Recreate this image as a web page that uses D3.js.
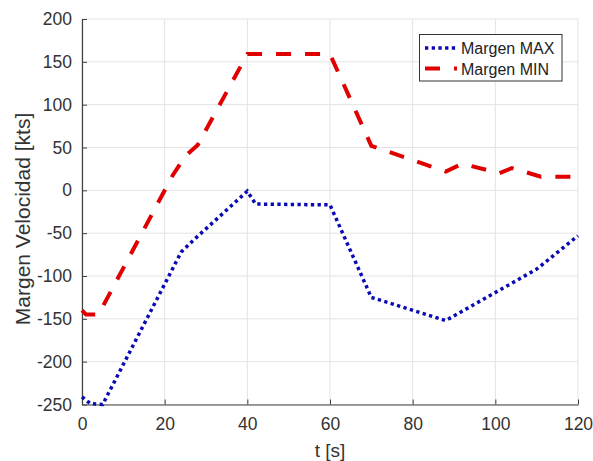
<!DOCTYPE html>
<html>
<head>
<meta charset="utf-8">
<script src="https://cdn.jsdelivr.net/npm/d3@7"></script>
<style>
  body { margin: 0; background: #fff; }
  svg { font-family: "Liberation Sans", Arial, sans-serif; }
</style>
</head>
<body>
<div id="chart"></div>
<script>
// Datos
const tMax = [0, 2, 5, 24, 27, 40, 42, 60, 70, 88, 110, 120];
const vMax = [-241, -249, -250, -72, -58, -1, -16, -17, -125, -152, -92, -53];

const tMin = [0, 1, 4, 22, 25, 28, 40, 60, 70, 88, 92, 101, 104, 111, 120];
const vMin = [-140, -145, -145, 18, 40, 53, 159, 159, 52, 22, 31, 20, 26, 16, 16];

const xTicks = [0, 20, 40, 60, 80, 100, 120];
const yTicks = [-250, -200, -150, -100, -50, 0, 50, 100, 150, 200];

const seriesNames = ["Margen MAX", "Margen MIN"];

// ------------------------------------------------------------------
const width = 593, height = 461;
const margin = { left: 82, right: 15, top: 19, bottom: 56.5 };

const svg = d3.select("#chart").append("svg")
  .attr("width", width).attr("height", height);

const x = d3.scaleLinear().domain([0, 120]).range([margin.left, width - margin.right]);
const y = d3.scaleLinear().domain([-250, 200]).range([height - margin.bottom, margin.top]);

const axisColor = "#404040";

// Rejilla
svg.append("g").selectAll("line").data(xTicks).enter().append("line")
  .attr("x1", d => x(d)).attr("x2", d => x(d))
  .attr("y1", y(-250)).attr("y2", y(200))
  .attr("stroke", "#e3e3e3").attr("stroke-width", 1);
svg.append("g").selectAll("line").data(yTicks).enter().append("line")
  .attr("x1", x(0)).attr("x2", x(120))
  .attr("y1", d => y(d)).attr("y2", d => y(d))
  .attr("stroke", "#e3e3e3").attr("stroke-width", 1);

// Ejes (ticks hacia dentro, signo menos ASCII)
const fmt = d => String(d);
const xAxis = svg.append("g").attr("transform", `translate(0,${y(-250)})`)
  .call(d3.axisBottom(x).tickValues(xTicks).tickFormat(fmt).tickSizeInner(-5).tickSizeOuter(0).tickPadding(13));
const yAxis = svg.append("g").attr("transform", `translate(${x(0)},0)`)
  .call(d3.axisLeft(y).tickValues(yTicks).tickFormat(fmt).tickSizeInner(-5).tickSizeOuter(0).tickPadding(10));

[xAxis, yAxis].forEach(a => {
  a.select(".domain").attr("stroke", axisColor).attr("stroke-width", 1.2);
  a.selectAll(".tick line").attr("stroke", axisColor);
  a.selectAll(".tick text").attr("fill", "#333").style("font-size", "17.5px")
    .style("font-family", "Liberation Sans, Arial, sans-serif");
});

// Etiquetas
svg.append("text")
  .attr("x", x(60)).attr("y", 457)
  .attr("text-anchor", "middle").attr("fill", "#333").style("font-size", "19px")
  .text("t [s]");
svg.append("text")
  .attr("transform", `translate(30,219) rotate(-90)`)
  .attr("text-anchor", "middle").attr("fill", "#333").style("font-size", "21px")
  .text("Margen Velocidad [kts]");

// Líneas
const line = d3.line().x(d => x(d[0])).y(d => y(d[1]));
const dataMax = tMax.map((t, i) => [t, vMax[i]]);
const dataMin = tMin.map((t, i) => [t, vMin[i]]);

svg.append("path").datum(dataMin).attr("d", line)
  .attr("fill", "none").attr("stroke", "#e00000").attr("stroke-width", 4)
  .attr("stroke-dasharray", "15,14");
svg.append("path").datum(dataMax).attr("d", line)
  .attr("fill", "none").attr("stroke", "#0a0ab4").attr("stroke-width", 3.5)
  .attr("stroke-dasharray", "3.3,3.4");

// Leyenda
const legend = svg.append("g");
legend.append("rect")
  .attr("x", 419.5).attr("y", 34.5).attr("width", 142.5).attr("height", 46.5)
  .attr("fill", "#fff").attr("stroke", "#333").attr("stroke-width", 1);
const legendStyles = [
  { color: "#0a0ab4", w: 3.5, dash: "3.3,3.4" },
  { color: "#e00000", w: 4, dash: "15,14" }
];
seriesNames.forEach((name, i) => {
  const yy = 48 + i * 20.5;
  legend.append("line")
    .attr("x1", 425).attr("x2", 457).attr("y1", yy).attr("y2", yy)
    .attr("stroke", legendStyles[i].color).attr("stroke-width", legendStyles[i].w)
    .attr("stroke-dasharray", legendStyles[i].dash);
  legend.append("text")
    .attr("x", 461).attr("y", yy + 6)
    .attr("fill", "#222").style("font-size", "16px")
    .text(name);
});
</script>
</body>
</html>
